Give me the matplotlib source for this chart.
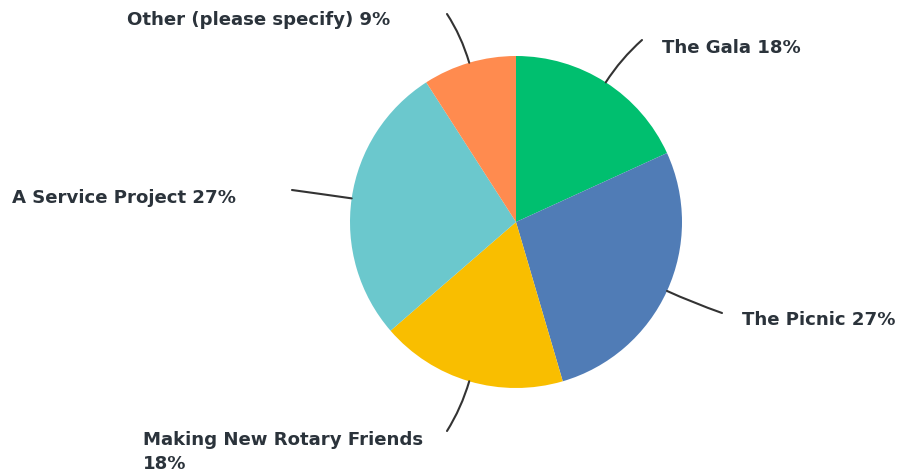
import numpy as np
import matplotlib
matplotlib.use("Agg")
import matplotlib.pyplot as plt
from matplotlib.path import Path
from matplotlib.patches import PathPatch

categories = ["The Gala", "The Picnic", "Making New Rotary Friends", "A Service Project", "Other (please specify)"]
values = [2, 3, 2, 3, 1]
pct_labels = ["18%", "27%", "18%", "27%", "9%"]
colors = ["#00BF6F", "#507CB6", "#F9BE00", "#6BC8CD", "#FF8B4F"]

W, H = 905, 474
fig = plt.figure(figsize=(W / 100, H / 100), dpi=100)
ax = fig.add_axes([0, 0, 1, 1])

cx, cy, R = 516, H - 222, 166
wedges, _ = ax.pie(values, colors=colors, startangle=90, counterclock=False,
                   center=(cx, cy), radius=R, frame=True,
                   wedgeprops=dict(linewidth=0))
ax.set_xlim(0, W)
ax.set_ylim(0, H)
ax.set_aspect("equal")
ax.axis("off")

# label anchor (end of leader line) and text placement, in pixel coords (y from top)
line_ends = [(642, 40), (722, 313), (447, 431), (292, 190), (447, 14)]
text_pos = [(662, 48), (742, 320), (143, 452), (12, 198), (127, 20)]
texts = [f"{c} {p}" for c, p in zip(categories, pct_labels)]
texts[2] = f"{categories[2]}\n{pct_labels[2]}"

for w, (ex, ey), (tx, ty), t in zip(wedges, line_ends, text_pos, texts):
    ang = np.deg2rad((w.theta1 + w.theta2) / 2)
    sx, sy = cx + R * np.cos(ang), cy + R * np.sin(ang)
    ctrl = (cx + (R + 28) * np.cos(ang), cy + (R + 28) * np.sin(ang))
    path = Path([(sx, sy), ctrl, (ex, H - ey)], [Path.MOVETO, Path.CURVE3, Path.CURVE3])
    ax.add_patch(PathPatch(path, fill=False, edgecolor="#333333", linewidth=1.5, capstyle="round"))
    ax.text(tx, H - ty, t, ha="left", va="center", fontsize=13.1, fontweight="bold",
            family="DejaVu Sans", color="#2b333b", linespacing=1.4)

fig.savefig("out.png", dpi=100)
